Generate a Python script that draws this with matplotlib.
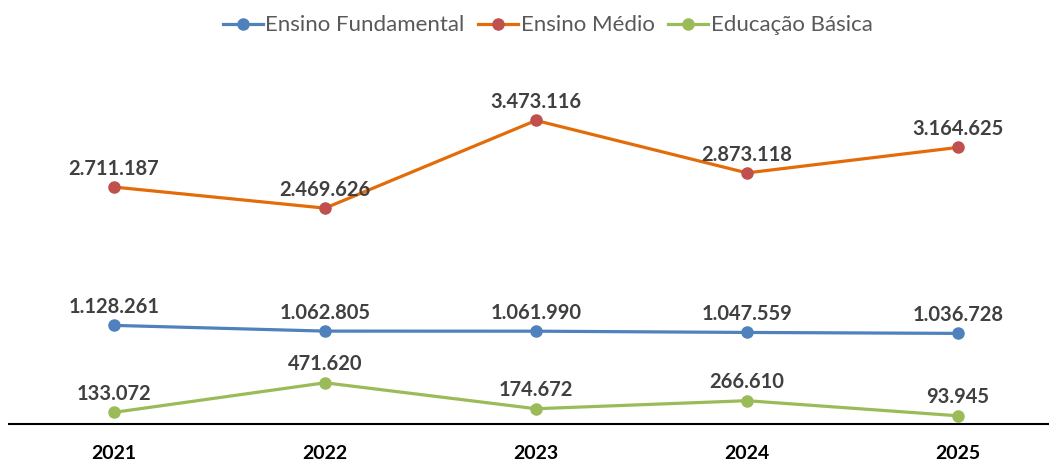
import matplotlib.pyplot as plt

anos = ["2021", "2022", "2023", "2024", "2025"]
fundamental = [1128261, 1062805, 1061990, 1047559, 1036728]
medio = [2711187, 2469626, 3473116, 2873118, 3164625]
basica = [133072, 471620, 174672, 266610, 93945]

plt.rcParams['font.family'] = ['Lato', 'DejaVu Sans']


def fmt(v):
    return "{:,}".format(v).replace(",", ".")


fig = plt.figure(figsize=(10.49, 4.63), dpi=100)
ax = fig.add_axes([8.5 / 1049, 39 / 463, 1055 / 1049, 349.6 / 463])

x = list(range(len(anos)))
series = [
    ("Ensino Fundamental", fundamental, "#4F81BD", "#4F81BD"),
    ("Ensino Médio", medio, "#E36C09", "#C0504D"),
    ("Educação Básica", basica, "#9BBB59", "#9BBB59"),
]
for nome, vals, cor, cor_marc in series:
    ax.plot(x, vals, color=cor, lw=2.3, marker="o", markersize=8,
            markerfacecolor=cor_marc, markeredgecolor=cor_marc, label=nome)
    for xi, v in zip(x, vals):
        ax.annotate(fmt(v), (xi, v), xytext=(0, 6), textcoords="offset points",
                    ha="center", va="bottom", fontsize=14.5, fontweight="bold",
                    color="#404040")

ax.set_xlim(-0.5, 4.5)
ax.set_ylim(0, 4000000)
ax.set_xticks(x)
ax.set_xticklabels(anos, fontsize=14, fontweight="bold", color="black")
ax.set_yticks([])
ax.tick_params(axis="x", length=0, pad=15)
for s in ["top", "right", "left"]:
    ax.spines[s].set_visible(False)
ax.spines["bottom"].set_linewidth(1.5)
ax.spines["bottom"].set_color("black")

fig.legend(loc="upper center", bbox_to_anchor=(0.522, 1.01), ncol=3, frameon=False,
           fontsize=16, labelcolor="#595959", handlelength=1.8, handletextpad=0.12,
           columnspacing=0.6)

fig.savefig("out.png", dpi=100)
